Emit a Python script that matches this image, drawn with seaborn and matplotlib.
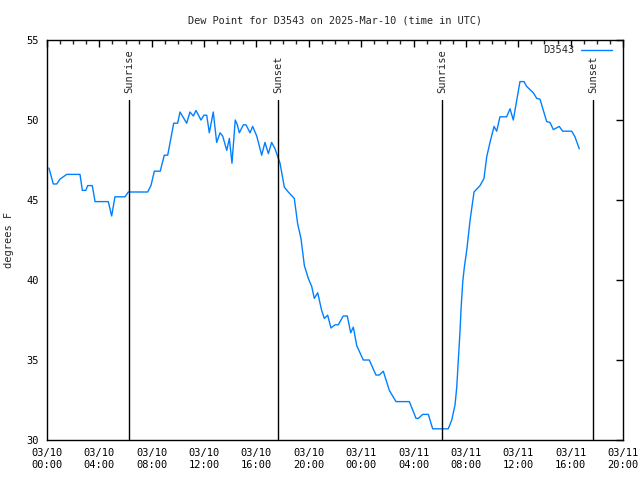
import matplotlib
matplotlib.use("Agg")
import matplotlib.pyplot as plt
import matplotlib.dates as mdates
import seaborn as sns
import pandas as pd
import numpy as np

# hours since 2025-03-10 00:00 UTC
hours = [0.15, 0.48, 0.74, 0.99, 1.50, 2.52, 2.70, 2.96, 3.11, 3.46, 3.67, 4.68, 4.94, 5.19,
         5.96, 6.21, 7.69, 7.94, 8.20, 8.65, 8.96, 9.22, 9.68, 9.98, 10.16, 10.67, 10.92,
         11.18, 11.38, 11.76, 11.99, 12.20, 12.40, 12.70, 12.96, 13.22, 13.42, 13.73, 13.93,
         14.13, 14.38, 14.54, 14.69, 15.00, 15.20, 15.51, 15.71, 16.02, 16.40, 16.65, 16.91,
         17.16, 17.42, 17.80, 18.13, 18.43, 18.89, 19.15, 19.40, 19.66, 19.96, 20.22, 20.42,
         20.68, 20.98, 21.18, 21.44, 21.69, 22.00, 22.25, 22.63, 22.94, 23.20, 23.40, 23.66,
         24.16, 24.62, 25.13, 25.38, 25.69, 26.15, 26.66, 27.68, 28.19, 28.36, 28.70, 29.13,
         29.46, 30.65, 30.92, 31.17, 31.30, 31.42, 31.55, 31.63, 31.76, 31.88, 32.07, 32.32,
         32.62, 33.08, 33.38, 33.59, 33.84, 34.15, 34.35, 34.60, 35.11, 35.37, 35.62, 36.13,
         36.44, 36.64, 37.15, 37.41, 37.66, 38.17, 38.42, 38.68, 39.13, 39.39, 40.08, 40.33,
         40.66]
dewpoint = [47.0, 46.0, 46.0, 46.3, 46.6, 46.6, 45.6, 45.6, 45.9, 45.9, 44.9, 44.9, 44.0, 45.2,
            45.2, 45.5, 45.5, 45.9, 46.8, 46.8, 47.8, 47.8, 49.8, 49.8, 50.5, 49.8, 50.5,
            50.25, 50.6, 50.0, 50.3, 50.3, 49.2, 50.5, 48.6, 49.2, 49.0, 48.1, 48.85,
            47.3, 50.0, 49.7, 49.2, 49.7, 49.7, 49.2, 49.6, 49.0, 47.8, 48.6, 47.9,
            48.6, 48.2, 47.3, 45.8, 45.5, 45.1, 43.5, 42.6, 40.9, 40.1, 39.6, 38.85,
            39.2, 38.1, 37.6, 37.8, 37.0, 37.2, 37.2, 37.75, 37.75, 36.7, 37.05, 35.9,
            35.0, 35.0, 34.06, 34.06, 34.3, 33.1, 32.4, 32.4, 31.35, 31.35, 31.6, 31.6,
            30.7, 30.7, 31.25, 32.2, 33.3, 35.0, 36.8, 38.2, 39.9, 40.8, 41.9, 43.75,
            45.5, 45.9, 46.35, 47.7, 48.6, 49.6, 49.3, 50.2, 50.2, 50.7, 50.0, 52.4,
            52.4, 52.1, 51.7, 51.35, 51.3, 49.9, 49.85, 49.4, 49.6, 49.3, 49.3, 48.95,
            48.2]

sun_times = ["2025-03-10 06:16", "2025-03-10 17:39", "2025-03-11 06:10", "2025-03-11 17:43"]
sun_labels = ["Sunrise", "Sunset", "Sunrise", "Sunset"]

start = pd.Timestamp("2025-03-10 00:00")
df = pd.DataFrame({
    "time": start + pd.to_timedelta(hours, unit="h"),
    "dew": dewpoint,
    "series": "D3543",
})

sns.set_style("white")
plt.rcParams["font.family"] = ["DejaVu Sans Mono"]

fig = plt.figure(figsize=(6.4, 4.8), dpi=100)
ax = fig.add_axes([47 / 640, 1 - 440 / 480, 576 / 640, 400 / 480])

sns.lineplot(data=df, x="time", y="dew", hue="series", palette=["#0080ff"],
             linewidth=1.0, ax=ax)

for t, lab in zip(sun_times, sun_labels):
    tt = pd.Timestamp(t)
    ax.plot([tt, tt], [30, 51.25], color="black", linewidth=1.0)
    ax.text(tt, 51.7, lab, rotation=90, ha="center", va="bottom", fontsize=7.5)

ax.set_xlim(start, pd.Timestamp("2025-03-11 20:00"))
ax.set_ylim(30, 55)
ax.set_yticks(np.arange(30, 56, 5))
ax.xaxis.set_major_locator(mdates.HourLocator(byhour=[0, 4, 8, 12, 16, 20]))
ax.xaxis.set_minor_locator(mdates.HourLocator())
ax.xaxis.set_major_formatter(mdates.DateFormatter("%m/%d\n%H:%M"))
ax.tick_params(axis="both", which="major", direction="in", length=5, width=1,
               top=True, right=True, labelsize=7.5, colors="black", pad=6)
ax.tick_params(axis="x", which="minor", direction="in", length=3, width=1, top=True)
for s in ax.spines.values():
    s.set_color("black")
    s.set_linewidth(1.0)

ax.set_xlabel("")
ax.set_ylabel("degrees F", fontsize=7.5)
ax.yaxis.set_label_coords(-0.058, 0.5)
ax.set_title("Dew Point for D3543 on 2025-Mar-10 (time in UTC)", fontsize=7.4, pad=12)

leg = ax.legend(loc="upper right", bbox_to_anchor=(0.99, 1.0), frameon=False,
                fontsize=7.5, markerfirst=False, handlelength=3.0,
                borderaxespad=0.1, handletextpad=0.6)

fig.savefig("out.png", dpi=100)
